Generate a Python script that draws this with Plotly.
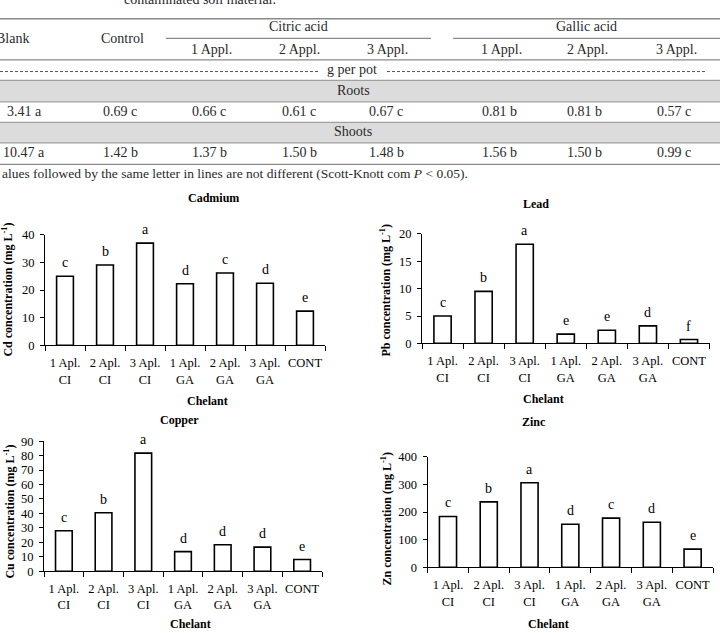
import plotly.graph_objects as go

W, H = 720, 633


def px(x):
    return x / W


def py(y):
    return 1 - y / H


# ---------------- table data ----------------
caption = "contaminated soil material."
col_heads = ["Blank", "Control"]
col_groups = ["Citric acid", "Gallic acid"]
appl_labels = ["1 Appl.", "2 Appl.", "3 Appl.", "1 Appl.", "2 Appl.", "3 Appl."]
unit_label = "g per pot"
row_groups = ["Roots", "Shoots"]
roots_vals = ["3.41 a", "0.69 c", "0.66 c", "0.61 c", "0.67 c", "0.81 b", "0.81 b", "0.57 c"]
shoots_vals = ["10.47 a", "1.42 b", "1.37 b", "1.50 b", "1.48 b", "1.56 b", "1.50 b", "0.99 c"]
footnote = "alues followed by the same letter in lines are not different (Scott-Knott com <i>P</i> < 0.05)."

# ---------------- chart data ----------------
categories = ["1 Apl.<br>CI", "2 Apl.<br>CI", "3 Apl.<br>CI",
              "1 Apl.<br>GA", "2 Apl.<br>GA", "3 Apl.<br>GA", "CONT"]
cd_values = [25.0, 29.1, 37.0, 22.3, 26.2, 22.5, 12.4]
cd_letters = ["c", "b", "a", "d", "c", "d", "e"]
pb_values = [5.0, 9.5, 18.1, 1.7, 2.4, 3.2, 0.7]
pb_letters = ["c", "b", "a", "e", "e", "d", "f"]
cu_values = [28.0, 40.5, 81.7, 13.6, 18.3, 16.7, 8.1]
cu_letters = ["c", "b", "a", "d", "d", "d", "e"]
zn_values = [184, 237, 306, 156, 178, 163, 66]
zn_letters = ["c", "b", "a", "d", "c", "d", "e"]

SERIF = "Liberation Serif"
TXT = "#2a2a2a"
RULE = "#8a8a8a"

fig = go.Figure()
shapes = []
ann = []

# ---------------- table drawing ----------------
def text(x, y, s, size=14, xanchor="center", **kw):
    ann.append(dict(x=px(x), y=py(y), xref="paper", yref="paper", text=s,
                    showarrow=False, xanchor=xanchor, yanchor="middle",
                    font=dict(family=SERIF, size=size, color=TXT), **kw))


def hline(x0, x1, y, color=RULE, width=1.3, dash=None):
    line = dict(color=color, width=width)
    if dash:
        line["dash"] = dash
    shapes.append(dict(type="line", xref="paper", yref="paper",
                       x0=px(x0), x1=px(x1), y0=py(y), y1=py(y), line=line))


text(200, -8, caption, size=14)
hline(0, 720, 12)
text(12, 32, col_heads[0])
text(122, 32, col_heads[1])
text(298, 20, col_groups[0])
text(586, 20, col_groups[1])
hline(166, 431, 32, width=1.2)
hline(453, 720, 32, width=1.2)
appl_x = [211, 299, 387, 501, 587, 676]
for xx, s in zip(appl_x, appl_labels):
    text(xx, 43, s)
hline(0, 720, 54)
hline(0, 318, 66, color="#555555", width=1, dash="3px,2px")
hline(387, 705, 66, color="#555555", width=1, dash="3px,2px")
text(352, 64, unit_label)

bands = [(75, 97), (118, 139)]
for (y0, y1), lab in zip(bands, row_groups):
    shapes.append(dict(type="rect", xref="paper", yref="paper", layer="below",
                       x0=0, x1=1, y0=py(y1), y1=py(y0),
                       fillcolor="#dcdcdc", line=dict(width=0)))
    hline(0, 720, y0, color="#a0a0a0", width=1.3)
    hline(0, 720, y1, color="#a0a0a0", width=1.3)
    text(353, (y0 + y1) / 2 - 1, lab)

val_x = [24, 120, 209, 299, 386, 499, 584, 674]
for xx, s in zip(val_x, roots_vals):
    text(xx, 107, s)
for xx, s in zip(val_x, shoots_vals):
    text(xx, 149, s)
hline(0, 720, 161)
text(0, 170, footnote, size=13.5, xanchor="left")

# ---------------- bar charts ----------------
panels = [
    dict(name="Cadmium", vals=cd_values, letters=cd_letters, ytitle="Cd concentration (mg L<sup>-1</sup>)",
         xd=(45, 325), yd=(233, 346), rng=[0, 40], dtick=10,
         tpos=(186, 195), ytpos=(8, 289), xtpos=(185, 403)),
    dict(name="Lead", vals=pb_values, letters=pb_letters, ytitle="Pb concentration (mg L<sup>-1</sup>)",
         xd=(422, 709.5), yd=(232, 344), rng=[0, 20], dtick=5,
         tpos=(551, 201), ytpos=(386, 290), xtpos=(566, 401)),
    dict(name="Copper", vals=cu_values, letters=cu_letters, ytitle="Cu concentration (mg L<sup>-1</sup>)",
         xd=(44, 322), yd=(444, 577), rng=[0, 90], dtick=10,
         tpos=(158, 422), ytpos=(10, 516), xtpos=(168, 631)),
    dict(name="Zinc", vals=zn_values, letters=zn_letters, ytitle="Zn concentration (mg L<sup>-1</sup>)",
         xd=(427.6, 713), yd=(460, 573), rng=[0, 400], dtick=100,
         tpos=(548, 424), ytpos=(386, 524), xtpos=(571, 631)),
]

layout_axes = {}
for i, p in enumerate(panels):
    n = "" if i == 0 else str(i + 1)
    xa, ya = "x" + n, "y" + n
    fig.add_trace(go.Bar(x=categories, y=p["vals"], xaxis=xa, yaxis=ya, width=0.42,
                         marker=dict(color="white", line=dict(color="black", width=1.6)),
                         showlegend=False, hoverinfo="x+y"))
    layout_axes["xaxis" + n] = dict(
        domain=[px(p["xd"][0]), px(p["xd"][1])], anchor=ya, type="category",
        range=[-0.5, 6.5], showline=True, linecolor="black", linewidth=1,
        ticks="outside", tickson="boundaries", ticklen=5, tickcolor="black",
        showgrid=False, zeroline=False, fixedrange=True, tickangle=0,
        ticklabelstandoff=6,
        tickfont=dict(family=SERIF, size=12.5, color="black"))
    layout_axes["yaxis" + n] = dict(
        domain=[py(p["yd"][1]), py(p["yd"][0])], anchor=xa, range=p["rng"],
        dtick=p["dtick"], showline=True, linecolor="black", linewidth=1,
        ticks="outside", ticklen=4, tickcolor="black", showgrid=False,
        zeroline=False, fixedrange=True, ticklabelstandoff=3,
        tickfont=dict(family=SERIF, size=12.5, color="black"))
    for c, v, l in zip(categories, p["vals"], p["letters"]):
        ann.append(dict(x=c, y=v, xref=xa, yref=ya, text=l, showarrow=False,
                        yanchor="bottom", yshift=4,
                        font=dict(family=SERIF, size=14, color="black")))
    ann.append(dict(x=px(p["tpos"][0]), y=py(p["tpos"][1]), xref="paper", yref="paper",
                    text="<b>%s</b>" % p["name"], showarrow=False, yanchor="middle",
                    font=dict(family=SERIF, size=12, color="black")))
    ann.append(dict(x=px(p["ytpos"][0]), y=py(p["ytpos"][1]), xref="paper", yref="paper",
                    text="<b>%s</b>" % p["ytitle"], showarrow=False, textangle=-90,
                    xanchor="center", yanchor="middle",
                    font=dict(family=SERIF, size=12, color="black")))
    ann.append(dict(x=px(p["xtpos"][0]), y=py(p["xtpos"][1]), xref="paper", yref="paper",
                    text="<b>Chelant</b>", showarrow=False, yanchor="middle",
                    font=dict(family=SERIF, size=12, color="black")))

fig.update_layout(width=W, height=H, margin=dict(l=0, r=0, t=0, b=0),
                  paper_bgcolor="white", plot_bgcolor="white",
                  shapes=shapes, annotations=ann, bargap=0.58, **layout_axes)

fig.write_html("out.html")
